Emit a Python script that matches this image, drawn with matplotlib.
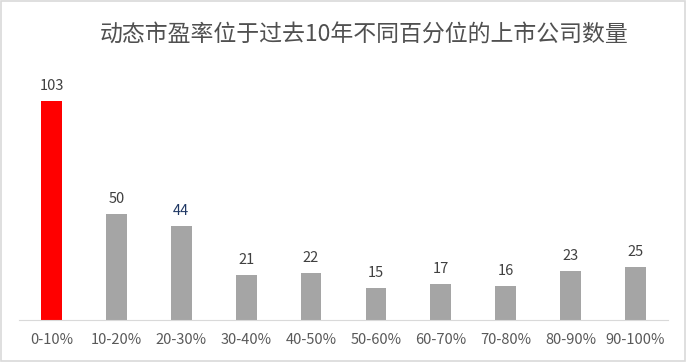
import matplotlib
matplotlib.use('Agg')
from matplotlib import pyplot as plt

plt.rcParams['font.family'] = ['Noto Sans CJK SC', 'DejaVu Sans']
plt.rcParams['axes.unicode_minus'] = False

# 各百分位区间及公司数量
categories = ['0-10%', '10-20%', '20-30%', '30-40%', '40-50%',
              '50-60%', '60-70%', '70-80%', '80-90%', '90-100%']
counts = [103, 50, 44, 21, 22, 15, 17, 16, 23, 25]

colors = ['#ff0000'] + ['#a5a5a5'] * (len(counts) - 1)
label_colors = ['#404040'] * len(counts)
label_colors[2] = '#203864'

fig = plt.figure(figsize=(6.87, 3.62), dpi=100)
# 外边框
fig.patches.append(plt.Rectangle((0.002, 0.003), 0.995, 0.994, transform=fig.transFigure,
                                 fill=False, edgecolor='#d9d9d9', linewidth=1.2))

ax = fig.add_axes([19 / 687, 42 / 362, 649 / 687, 260 / 362])
x = range(len(categories))
bars = ax.bar(x, counts, width=0.32, color=colors)

for b, v, c in zip(bars, counts, label_colors):
    ax.annotate(str(v), (b.get_x() + b.get_width() / 2, v), xytext=(0, 8),
                textcoords='offset pixels', ha='center', va='bottom',
                fontsize=10.5, color=c)

ax.set_xlim(-0.5, len(categories) - 0.5)
ax.set_ylim(0, 103 * 260 / 219)
ax.set_xticks(list(x))
ax.set_xticklabels(categories, fontsize=10.5, color='#595959')
ax.tick_params(axis='x', length=0, pad=9)
ax.set_yticks([])
for s in ['top', 'right', 'left']:
    ax.spines[s].set_visible(False)
ax.spines['bottom'].set_color('#d9d9d9')

fig.text(0.530, 0.903, '动态市盈率位于过去10年不同百分位的上市公司数量',
         ha='center', va='center', fontsize=16.5, color='#505050')

fig.savefig('out.png', dpi=100)
